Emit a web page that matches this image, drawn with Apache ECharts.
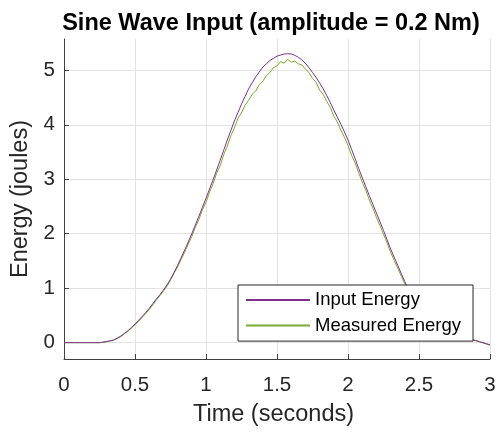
<!DOCTYPE html>
<html>
<head>
<meta charset="utf-8">
<script src="https://cdn.jsdelivr.net/npm/echarts@6/dist/echarts.min.js"></script>
<style>
html,body{margin:0;padding:0;background:#fff;}
#c{width:499px;height:435px;}
</style>
</head>
<body>
<div id="c"></div>
<script>
var titleText = 'Sine Wave Input (amplitude = 0.2 Nm)';
var xName = 'Time (seconds)';
var yName = 'Energy (joules)';
var seriesNames = ['Input Energy', 'Measured Energy'];
var xTicks = [0, 0.5, 1, 1.5, 2, 2.5, 3];
var yTicks = [0, 1, 2, 3, 4, 5];

var times = [
0.000,0.025,0.050,0.075,0.100,0.125,0.150,0.175,0.200,0.225,
0.250,0.275,0.300,0.325,0.350,0.375,0.400,0.425,0.450,0.475,
0.500,0.525,0.550,0.575,0.600,0.625,0.650,0.675,0.700,0.725,
0.750,0.775,0.800,0.825,0.850,0.875,0.900,0.925,0.950,0.975,
1.000,1.025,1.050,1.075,1.100,1.125,1.150,1.175,1.200,1.225,
1.250,1.275,1.300,1.325,1.350,1.375,1.400,1.425,1.450,1.475,
1.500,1.525,1.550,1.575,1.600,1.625,1.650,1.675,1.700,1.725,
1.750,1.775,1.800,1.825,1.850,1.875,1.900,1.925,1.950,1.975,
2.000,2.025,2.050,2.075,2.100,2.125,2.150,2.175,2.200,2.225,
2.250,2.275,2.300,2.325,2.350,2.375,2.400,2.425,2.450,2.475,
2.500,2.525,2.550,2.575,2.600,2.625,2.650,2.675,2.700,2.725,
2.750,2.775,2.800,2.825,2.850,2.875,2.900,2.925,2.950,2.975,
3.000];

var inputEnergy = [
0,0,0,0,0,0,0,0,0,0,
0,0.01,0.02,0.035,0.05,0.085,0.12,0.17,0.22,0.28,
0.34,0.41,0.48,0.555,0.63,0.715,0.80,0.88,0.965,1.06,
1.165,1.29,1.42,1.56,1.70,1.85,2.00,2.16,2.32,2.485,
2.65,2.82,2.99,3.17,3.35,3.535,3.72,3.895,4.07,4.225,
4.38,4.52,4.66,4.77,4.88,4.97,5.06,5.12,5.18,5.22,
5.26,5.28,5.30,5.305,5.30,5.275,5.24,5.19,5.13,5.05,
4.96,4.87,4.77,4.66,4.54,4.41,4.27,4.14,4.01,3.87,
3.72,3.55,3.38,3.20,3.03,2.865,2.70,2.54,2.38,2.22,
2.06,1.89,1.72,1.57,1.42,1.27,1.12,0.985,0.85,0.735,
0.62,0.54,0.46,0.40,0.34,0.295,0.25,0.215,0.18,0.155,
0.13,0.115,0.10,0.085,0.07,0.055,0.04,0.02,0.0,-0.02,
-0.04];

var measuredEnergy = [
0,0,0,0,0,0,0,0,0,0,
0,0.005,0.015,0.03,0.045,0.075,0.11,0.16,0.21,0.265,
0.33,0.39,0.46,0.53,0.61,0.69,0.78,0.86,0.945,1.035,
1.15,1.27,1.39,1.53,1.66,1.81,1.95,2.12,2.26,2.44,
2.58,2.76,2.92,3.11,3.25,3.45,3.61,3.80,3.94,4.12,
4.22,4.36,4.45,4.56,4.62,4.74,4.80,4.90,4.96,5.05,
5.08,5.16,5.13,5.20,5.15,5.17,5.12,5.10,5.02,4.96,
4.85,4.78,4.64,4.56,4.43,4.32,4.16,4.05,3.90,3.77,
3.62,3.44,3.30,3.12,2.95,2.80,2.62,2.47,2.30,2.15,
1.99,1.83,1.66,1.51,1.37,1.22,1.08,0.95,0.82,0.71,
0.60,0.52,0.45,0.39,0.335,0.29,0.245,0.21,0.175,0.15,
0.125,0.11,0.095,0.08,0.065,0.05,0.035,0.015,-0.005,-0.025,
-0.045];

function pairs(xs, ys){ return xs.map(function(x,i){ return [x, ys[i]]; }); }

var FONT = "'Liberation Sans', Arial, sans-serif";
var AX = '#404040';
var GRID = '#e3e3e3';

var chart = echarts.init(document.getElementById('c'), null, {renderer:'canvas'});
chart.setOption({
  animation: false,
  backgroundColor: '#fff',
  title: {
    text: titleText, left: 266, top: 7, textAlign: 'center',
    textStyle: {fontFamily: FONT, fontSize: 23.5, fontWeight: 'bold', color: '#000'}
  },
  grid: {left: 64, right: 9, top: 39, bottom: 76, containLabel: false},
  xAxis: {
    type: 'value', min: 0, max: 3, interval: 0.5,
    name: xName, nameLocation: 'middle', nameGap: 44,
    nameTextStyle: {fontFamily: FONT, fontSize: 23.5, color: '#262626', padding: [0, 7, 0, 0]},
    axisLine: {show: true, onZero: false, lineStyle: {color: AX, width: 1}},
    axisTick: {show: true, inside: true, length: 5, lineStyle: {color: AX}},
    axisLabel: {fontFamily: FONT, fontSize: 20.5, color: '#262626', margin: 16,
      formatter: function(v){ return String(v); }},
    splitLine: {show: true, lineStyle: {color: GRID, width: 1}}
  },
  yAxis: {
    type: 'value', min: -0.3, max: 5.575,
    name: yName, nameLocation: 'middle', nameGap: 31,
    nameTextStyle: {fontFamily: FONT, fontSize: 23.5, color: '#262626'},
    axisLine: {show: true, onZero: false, lineStyle: {color: AX, width: 1}},
    axisTick: {show: true, inside: true, length: 5, lineStyle: {color: AX}, customValues: yTicks},
    axisLabel: {fontFamily: FONT, fontSize: 20.5, color: '#262626', margin: 9, customValues: yTicks},
    splitLine: {show: true, lineStyle: {color: GRID, width: 1}}
  },
  legend: {
    orient: 'vertical', left: 238, top: 285,
    padding: [5.5, 12, 6, 7], itemWidth: 64, itemHeight: 20, itemGap: 6.6,
    backgroundColor: '#fff', borderColor: '#262626', borderWidth: 1, borderRadius: 0,
    itemStyle: {opacity: 0},
    textStyle: {fontFamily: FONT, fontSize: 18.5, color: '#000'},
    data: seriesNames
  },
  series: [
    {name: seriesNames[0], type: 'line', data: pairs(times, inputEnergy), showSymbol: false, symbol: 'none',
     lineStyle: {color: '#7E2F8E', width: 1}, itemStyle: {color: '#7E2F8E'}, z: 3},
    {name: seriesNames[1], type: 'line', data: pairs(times, measuredEnergy), showSymbol: false, symbol: 'none',
     lineStyle: {color: '#77AC30', width: 1}, itemStyle: {color: '#77AC30'}, z: 2}
  ]
});
</script>
</body>
</html>
